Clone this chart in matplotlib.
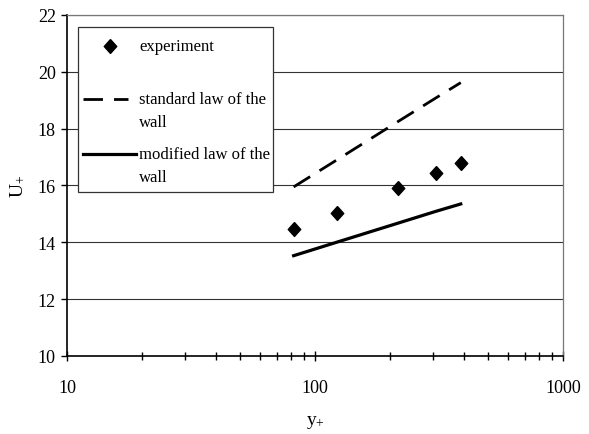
import matplotlib
matplotlib.use("Agg")
import matplotlib.pyplot as plt
from matplotlib.lines import Line2D
from matplotlib.patches import Rectangle
from matplotlib.ticker import NullFormatter, LogLocator

# ---- data ----
y_plus = [82, 123, 217, 307, 387]
u_experiment = [14.47, 15.03, 15.92, 16.43, 16.78]
u_standard = [15.95, 16.91, 18.26, 19.08, 19.62]
u_modified = [13.53, 14.01, 14.68, 15.09, 15.35]

x_ticks = [10, 100, 1000]
x_tick_labels = ["10", "100", "1000"]
y_ticks = [10, 12, 14, 16, 18, 20, 22]
y_tick_labels = ["10", "12", "14", "16", "18", "20", "22"]

label_exp = "experiment"
label_std = "standard law of the\nwall"
label_mod = "modified law of the\nwall"

plt.rcParams["font.family"] = ["Liberation Serif", "DejaVu Serif"]
plt.rcParams["mathtext.fontset"] = "custom"
plt.rcParams["mathtext.rm"] = "Liberation Serif"
plt.rcParams["mathtext.it"] = "Liberation Serif:italic"

fig = plt.figure(figsize=(5.89, 4.35), dpi=100)
ax = fig.add_axes([67/589, 78/435, 496/589, 341/435])

diamond = [(0, 1), (0.9, 0), (0, -1), (-0.9, 0), (0, 1)]

ax.plot(y_plus, u_standard, color="black", lw=2.0, linestyle=(0, (7, 4)), zorder=3)
ax.plot(y_plus, u_modified, color="black", lw=2.3, linestyle="-", zorder=3)
ax.plot(y_plus, u_experiment, linestyle="none", marker=diamond, markersize=10,
        color="black", zorder=4)

ax.set_xscale("log")
ax.set_xlim(10, 1000)
ax.set_ylim(10, 22)
ax.set_xticks(x_ticks)
ax.set_xticklabels(x_tick_labels)
ax.xaxis.set_minor_locator(LogLocator(base=10, subs=range(2, 10)))
ax.xaxis.set_minor_formatter(NullFormatter())
ax.set_yticks(y_ticks)
ax.set_yticklabels(y_tick_labels)

ax.yaxis.grid(True, color="#333333", lw=0.8)
ax.set_axisbelow(True)

for s in ["top", "right"]:
    ax.spines[s].set_color("#777777")
    ax.spines[s].set_linewidth(0.9)
for s in ["left", "bottom"]:
    ax.spines[s].set_color("black")
    ax.spines[s].set_linewidth(1.2)

ax.tick_params(axis="x", which="major", direction="inout", length=7, width=1,
               labelsize=13, pad=13)
ax.tick_params(axis="x", which="minor", direction="inout", length=6, width=1)
ax.tick_params(axis="y", which="major", direction="out", length=4, width=1,
               labelsize=13, pad=4)

ax.set_xlabel("y$_{+}$", fontsize=14, labelpad=12)
ax.set_ylabel("U$_{+}$", fontsize=14, labelpad=8)

# ---- legend (drawn manually to match the box layout) ----
T = ax.transAxes
ax.add_patch(Rectangle((0.022, 0.481), 0.393, 0.484, transform=T,
                       facecolor="white", edgecolor="#333333", lw=0.9, zorder=5))
ax.add_line(Line2D([0.0867], [0.909], transform=T, marker=diamond, markersize=10,
                   color="black", linestyle="none", zorder=6))
ax.add_line(Line2D([0.032, 0.123], [0.754, 0.754], transform=T, color="black",
                   lw=2.0, linestyle=(0, (7, 4)), zorder=6))
ax.add_line(Line2D([0.032, 0.139], [0.592, 0.592], transform=T, color="black",
                   lw=2.3, zorder=6))
ax.text(0.145, 0.909, label_exp, transform=T, va="center", ha="left", fontsize=12, zorder=6)
ax.text(0.145, 0.720, label_std, transform=T, va="center", ha="left", fontsize=12,
        linespacing=1.55, zorder=6)
ax.text(0.145, 0.5587, label_mod, transform=T, va="center", ha="left", fontsize=12,
        linespacing=1.55, zorder=6)

fig.savefig("out.png", dpi=100)
